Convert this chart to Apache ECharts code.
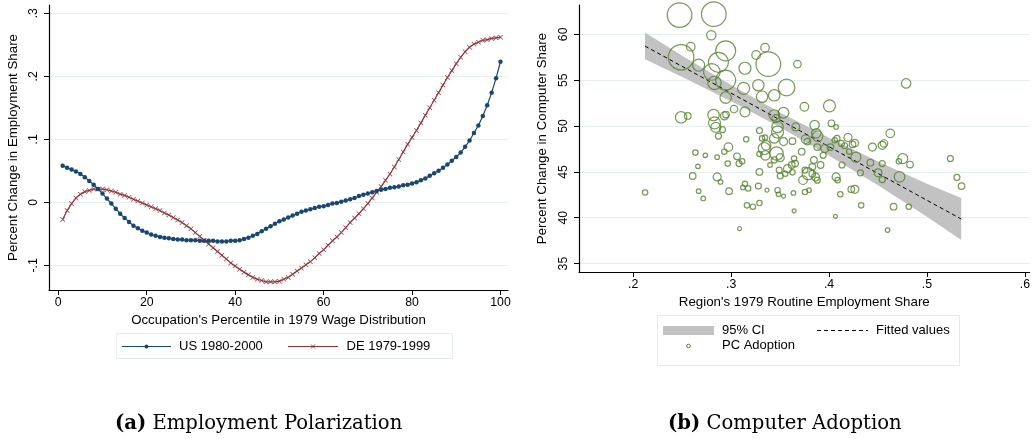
<!DOCTYPE html>
<html>
<head>
<meta charset="utf-8">
<script src="https://cdn.jsdelivr.net/npm/echarts@6/dist/echarts.min.js"></script>
<style>
html,body{margin:0;padding:0;background:#fff;}
#chart{width:1033px;height:439px;}
</style>
</head>
<body>
<div id="chart"></div>
<script>
// ---- Panel (a): change in employment share by occupation wage percentile ----
const percentile = [1,2,3,4,5,6,7,8,9,10,11,12,13,14,15,16,17,18,19,20,
  21,22,23,24,25,26,27,28,29,30,31,32,33,34,35,36,37,38,39,40,
  41,42,43,44,45,46,47,48,49,50,51,52,53,54,55,56,57,58,59,60,
  61,62,63,64,65,66,67,68,69,70,71,72,73,74,75,76,77,78,79,80,
  81,82,83,84,85,86,87,88,89,90,91,92,93,94,95,96,97,98,99,100];
const usChange = [0.058,0.055,0.052,0.049,0.045,0.040,0.034,0.028,0.021,0.014,
  0.006,-0.002,-0.010,-0.018,-0.025,-0.031,-0.037,-0.041,-0.045,-0.048,
  -0.051,-0.053,-0.055,-0.056,-0.057,-0.058,-0.059,-0.059,-0.060,-0.060,
  -0.060,-0.061,-0.061,-0.061,-0.061,-0.062,-0.062,-0.062,-0.061,-0.061,
  -0.060,-0.058,-0.056,-0.053,-0.050,-0.046,-0.042,-0.038,-0.034,-0.030,
  -0.027,-0.024,-0.021,-0.018,-0.015,-0.013,-0.011,-0.009,-0.007,-0.006,
  -0.004,-0.002,-0.001,0.001,0.003,0.005,0.007,0.010,0.012,0.014,
  0.016,0.018,0.020,0.021,0.023,0.024,0.025,0.027,0.028,0.030,
  0.032,0.035,0.038,0.042,0.046,0.050,0.055,0.060,0.066,0.072,
  0.079,0.088,0.098,0.110,0.122,0.137,0.154,0.174,0.197,0.223];
const deChange = [-0.027,-0.013,-0.002,0.007,0.013,0.017,0.019,0.021,0.021,0.021,
  0.020,0.018,0.016,0.013,0.011,0.008,0.005,0.002,-0.001,-0.004,
  -0.007,-0.010,-0.013,-0.017,-0.020,-0.024,-0.028,-0.032,-0.037,-0.042,
  -0.048,-0.054,-0.060,-0.066,-0.072,-0.078,-0.084,-0.090,-0.096,-0.101,
  -0.106,-0.111,-0.115,-0.119,-0.122,-0.124,-0.126,-0.126,-0.126,-0.125,
  -0.122,-0.119,-0.114,-0.109,-0.104,-0.099,-0.094,-0.088,-0.081,-0.075,
  -0.068,-0.061,-0.055,-0.048,-0.040,-0.032,-0.025,-0.018,-0.010,-0.002,
  0.007,0.016,0.025,0.035,0.045,0.056,0.068,0.080,0.092,0.103,
  0.114,0.126,0.138,0.150,0.162,0.174,0.186,0.198,0.209,0.220,
  0.230,0.239,0.246,0.251,0.254,0.257,0.258,0.260,0.261,0.262];
const pctTicks = [0, 20, 40, 60, 80, 100];
const shareTicks = [-0.1, 0, 0.1, 0.2, 0.3];

// ---- Panel (b): regional computer adoption vs. routine employment share ----
const routineShare = [
  0.2473,0.2823,0.2797,0.2587,0.2489,0.2944,0.2668,0.2870,0.2803,0.2944,
  0.2830,0.3141,0.3127,0.2944,0.3141,0.3029,0.2489,0.2557,0.2820,0.2830,
  0.2931,0.2948,0.2843,0.2911,0.2870,0.3154,0.2972,0.2635,0.2736,0.2857,
  0.2931,0.3060,0.2661,0.2965,0.3080,0.3113,0.2607,0.2857,0.2891,0.2121,
  0.2668,0.2715,0.2979,0.3141,0.3120,0.3174,0.3161,0.3086,
  0.3346,0.3255,0.3380,0.3677,0.3278,0.3316,0.3440,0.3566,0.3748,0.4004,
  0.3535,0.3440,0.3474,0.3474,0.3440,0.3289,0.3316,0.3346,0.3339,0.3349,
  0.3289,0.3464,0.3501,0.3440,0.3397,0.3535,0.3626,0.3660,0.3761,0.3852,
  0.3869,0.3883,0.4024,0.4072,0.3721,0.3643,0.3619,0.3576,0.3491,0.3501,
  0.3626,0.3653,0.3786,0.3734,0.3829,0.3845,0.3862,0.3880,0.3913,0.3940,
  0.3957,0.3880,0.4014,0.4058,0.4126,0.4159,0.4193,0.4240,0.4206,0.4132,
  0.4072,0.4115,0.4227,0.3289,0.3278,0.3366,0.3474,0.3484,0.3535,0.3636,
  0.3754,0.3795,0.3289,0.3222,0.3643,0.4065,0.3552,0.3754,0.3829,0.3778,
  0.3357,0.4088,0.4081,0.3457,
  0.4787,0.4625,0.4443,0.4543,0.4561,0.4264,0.4274,0.4422,0.4543,0.4753,
  0.4713,0.4827,0.4720,0.4500,0.4321,0.4543,0.4264,0.4328,0.4659,0.4814,
  0.4598,0.5239,0.5306,0.5353];
const pcChange = [
  62.10,62.20,59.90,58.65,57.50,58.20,56.65,56.95,55.90,55.00,
  54.70,56.30,54.10,53.10,51.55,51.85,50.95,51.10,51.20,50.35,
  51.10,51.25,49.85,49.60,48.90,48.55,47.70,47.10,46.80,46.60,
  47.20,46.70,45.60,45.90,45.90,46.15,44.55,44.45,43.90,42.75,
  42.90,42.10,42.90,43.70,43.30,43.20,41.35,38.80,
  58.55,57.75,56.75,56.75,54.45,53.20,53.35,54.20,52.10,52.20,
  51.45,51.20,49.90,49.35,48.65,49.50,48.65,48.75,47.55,46.80,
  46.95,47.00,46.55,46.30,45.75,48.30,48.35,49.90,48.55,50.10,
  49.20,48.90,50.30,49.90,47.20,46.45,45.75,45.35,45.20,44.55,
  44.95,45.90,44.80,44.10,45.55,46.30,44.45,44.10,45.75,46.80,
  47.55,47.70,47.70,48.45,48.10,47.85,48.75,48.00,47.20,45.75,
  44.45,42.55,43.10,45.00,43.45,43.00,43.00,42.55,42.35,42.70,
  42.80,43.00,41.60,41.20,40.75,40.15,44.80,45.20,44.80,48.30,
  47.90,44.10,48.65,50.80,
  54.65,49.20,47.70,47.90,48.10,48.15,46.60,46.00,45.90,46.45,
  46.15,45.80,44.45,44.90,44.90,44.15,43.10,41.35,41.20,41.20,
  38.65,46.45,44.40,43.45];
// regional employment weights (arbitrary units)
const regionWeight = [
  1513,1513,221,185,1613,1000,360,1000,689,1000,
  449,360,360,325,250,137,325,109,325,360,
  160,109,250,90,90,73,185,73,53,53,
  73,109,53,73,90,73,109,160,53,73,
  53,53,109,73,53,73,73,40,
  185,185,1513,137,325,325,325,689,185,360,
  281,281,325,360,221,90,73,73,360,221,
  73,449,160,90,53,160,109,160,185,221,
  221,281,109,53,109,73,109,160,90,90,
  73,109,360,185,109,109,160,90,109,90,
  160,109,109,73,90,90,160,109,73,90,
  160,73,109,109,90,40,73,53,40,53,
  73,53,73,73,40,40,73,90,109,109,
  221,73,90,160,
  221,185,160,160,137,137,250,109,90,250,
  73,109,281,160,90,90,160,73,109,73,
  53,90,90,109];
// linear fit and its 95% confidence band
const fitX = [0.212, 0.535];
const fitY = [58.72, 39.86];
const ciX  = [0.212, 0.25, 0.30, 0.35, 0.40, 0.45, 0.50, 0.535];
const ciLo = [57.27, 55.36, 52.71, 49.87, 46.77, 43.53, 40.11, 37.57];
const ciHi = [60.20, 57.66, 54.47, 51.47, 48.73, 46.13, 43.71, 42.15];
const routineTicks = [0.2, 0.3, 0.4, 0.5, 0.6];
const pcTicks = [35, 40, 45, 50, 55, 60];

// ---- styling ----
const FONT = 'Liberation Sans, Arial, sans-serif';
const SERIF = 'DejaVu Serif, serif';
const US_COLOR = '#1a476f';
const DE_COLOR = '#90353b';
const PC_COLOR = '#55802d';
const GRID_COLOR = '#e6eff0';
const X_SYMBOL = 'path://M0,1 L1,0 L5,4 L9,0 L10,1 L6,5 L10,9 L9,10 L5,6 L1,10 L0,9 L4,5 Z';

// Stata-style number labels: .3, -.1, 0
function stataNum(v) {
  if (Math.abs(v) < 1e-9) return '0';
  const s = String(+v.toFixed(3));
  return s.replace(/^(-?)0\./, '$1.');
}

const zip = (xs, ys) => xs.map((x, i) => [x, ys[i]]);

function valueAxis(extra) {
  return Object.assign({
    type: 'value',
    axisLine: { show: true, onZero: false, lineStyle: { color: '#000', width: 1.2 } },
    nameLocation: 'middle',
    nameTextStyle: { color: '#000', fontSize: 13.3, fontFamily: FONT },
    splitLine: { show: false }
  }, extra);
}

function ticks(values) {
  return { show: true, inside: false, length: 5, customValues: values,
           lineStyle: { color: '#000', width: 1 } };
}

function labels(values, extra) {
  return Object.assign({ color: '#000', fontSize: 12.3, fontFamily: FONT, customValues: values }, extra);
}

const chart = echarts.init(document.getElementById('chart'), null, { renderer: 'canvas' });

const option = {
  animation: false,
  backgroundColor: '#fff',
  textStyle: { fontFamily: FONT },
  grid: [
    { left: 49, top: 5, width: 459, height: 285 },
    { left: 579, top: 5, width: 456, height: 267 }
  ],
  xAxis: [
    valueAxis({
      gridIndex: 0, min: -2.1, max: 101.7,
      name: "Occupation's Percentile in 1979 Wage Distribution", nameGap: 21,
      axisTick: ticks(pctTicks),
      axisLabel: labels(pctTicks, { margin: 7 })
    }),
    valueAxis({
      gridIndex: 1, min: 0.1446, max: 0.6048,
      name: "Region's 1979 Routine Employment Share", nameGap: 20,
      axisTick: ticks(routineTicks),
      axisLabel: labels(routineTicks, { margin: 7, formatter: stataNum })
    })
  ],
  yAxis: [
    valueAxis({
      gridIndex: 0, min: -0.139, max: 0.313,
      name: 'Percent Change in Employment Share', nameGap: 29, nameRotate: 90,
      axisTick: ticks(shareTicks),
      axisLabel: labels(shareTicks, { margin: 9, rotate: 90, formatter: stataNum }),
      splitLine: { show: true, lineStyle: { color: GRID_COLOR, width: 1.2 } }
    }),
    valueAxis({
      gridIndex: 1, min: 34.08, max: 63.2,
      name: 'Percent Change in Computer Share', nameGap: 30, nameRotate: 90,
      axisTick: ticks(pcTicks),
      axisLabel: labels(pcTicks, { margin: 9, rotate: 90 }),
      splitLine: { show: true, lineStyle: { color: GRID_COLOR, width: 1.2 } }
    })
  ],
  series: [
    {
      name: 'DE 1979-1999', type: 'line', xAxisIndex: 0, yAxisIndex: 0,
      data: zip(percentile, deChange),
      symbol: X_SYMBOL, symbolSize: 5, showAllSymbol: true,
      lineStyle: { color: DE_COLOR, width: 1.2 },
      itemStyle: { color: DE_COLOR }, z: 3
    },
    {
      name: 'US 1980-2000', type: 'line', xAxisIndex: 0, yAxisIndex: 0,
      data: zip(percentile, usChange),
      symbol: 'circle', symbolSize: 4.5, showAllSymbol: true,
      lineStyle: { color: US_COLOR, width: 1.2 },
      itemStyle: { color: US_COLOR }, z: 4
    },
    {
      name: '95% CI', type: 'custom', xAxisIndex: 1, yAxisIndex: 1,
      data: [[ciX[0], ciLo[0]]],
      renderItem: function (params, api) {
        const upper = ciX.map((x, i) => api.coord([x, ciHi[i]]));
        const lower = ciX.map((x, i) => api.coord([x, ciLo[i]])).reverse();
        return { type: 'polygon', shape: { points: upper.concat(lower) },
                 style: { fill: '#c2c2c2' } };
      },
      z: 1, silent: true
    },
    {
      name: 'Fitted values', type: 'line', xAxisIndex: 1, yAxisIndex: 1,
      data: zip(fitX, fitY), symbol: 'none',
      lineStyle: { color: '#000', width: 1, type: [4, 3] }, z: 2
    },
    {
      name: 'PC Adoption', type: 'scatter', xAxisIndex: 1, yAxisIndex: 1,
      data: routineShare.map((x, i) => [x, pcChange[i], regionWeight[i]]),
      symbol: 'circle',
      symbolSize: d => 2 * Math.sqrt(d[2] / 10),
      itemStyle: { color: 'rgba(0,0,0,0)', borderColor: PC_COLOR, borderWidth: 1.2 },
      z: 3
    }
  ],
  graphic: [
    // legend, panel (a)
    { type: 'rect', shape: { x: 116.5, y: 333.5, width: 336, height: 25 },
      style: { fill: '#fff', stroke: '#e4eced', lineWidth: 1 } },
    { type: 'line', shape: { x1: 122, y1: 346.5, x2: 171, y2: 346.5 },
      style: { stroke: US_COLOR, lineWidth: 1.2 } },
    { type: 'circle', shape: { cx: 146.5, cy: 346.5, r: 2 }, style: { fill: US_COLOR } },
    { type: 'text', style: { text: 'US 1980-2000', x: 179, y: 346.5, fill: '#000',
      font: '13px ' + FONT, verticalAlign: 'middle' } },
    { type: 'line', shape: { x1: 288, y1: 346.5, x2: 338, y2: 346.5 },
      style: { stroke: DE_COLOR, lineWidth: 1.2 } },
    { type: 'line', shape: { x1: 311, y1: 344.5, x2: 315, y2: 348.5 },
      style: { stroke: DE_COLOR, lineWidth: 1 } },
    { type: 'line', shape: { x1: 311, y1: 348.5, x2: 315, y2: 344.5 },
      style: { stroke: DE_COLOR, lineWidth: 1 } },
    { type: 'text', style: { text: 'DE 1979-1999', x: 346.5, y: 346.5, fill: '#000',
      font: '13px ' + FONT, verticalAlign: 'middle' } },

    // legend, panel (b)
    { type: 'rect', shape: { x: 657.5, y: 315.5, width: 302, height: 50 },
      style: { fill: '#fff', stroke: '#e4eced', lineWidth: 1 } },
    { type: 'rect', shape: { x: 663, y: 326, width: 51, height: 9 }, style: { fill: '#c2c2c2' } },
    { type: 'text', style: { text: '95% CI', x: 722, y: 330.5, fill: '#000',
      font: '13px ' + FONT, verticalAlign: 'middle' } },
    { type: 'line', shape: { x1: 817, y1: 330.5, x2: 868, y2: 330.5 },
      style: { stroke: '#000', lineWidth: 1, lineDash: [4, 3] } },
    { type: 'text', style: { text: 'Fitted values', x: 876, y: 330.5, fill: '#000',
      font: '13px ' + FONT, verticalAlign: 'middle' } },
    { type: 'circle', shape: { cx: 688.5, cy: 346, r: 1.8 },
      style: { fill: 'none', stroke: PC_COLOR, lineWidth: 1 } },
    { type: 'text', style: { text: 'PC Adoption', x: 722, y: 345.5, fill: '#000',
      font: '13px ' + FONT, verticalAlign: 'middle' } },

    // panel captions
    { type: 'text', style: {
        text: '{b|(a)} Employment Polarization', x: 115, y: 424,
        verticalAlign: 'middle', fill: '#000', font: '19.6px ' + SERIF,
        rich: { b: { fontWeight: 'bold', fontSize: 19.6, fontFamily: SERIF } } } },
    { type: 'text', style: {
        text: '{b|(b)} Computer Adoption', x: 668, y: 424,
        verticalAlign: 'middle', fill: '#000', font: '19.6px ' + SERIF,
        rich: { b: { fontWeight: 'bold', fontSize: 19.6, fontFamily: SERIF } } } }
  ]
};

chart.setOption(option);
</script>
</body>
</html>
